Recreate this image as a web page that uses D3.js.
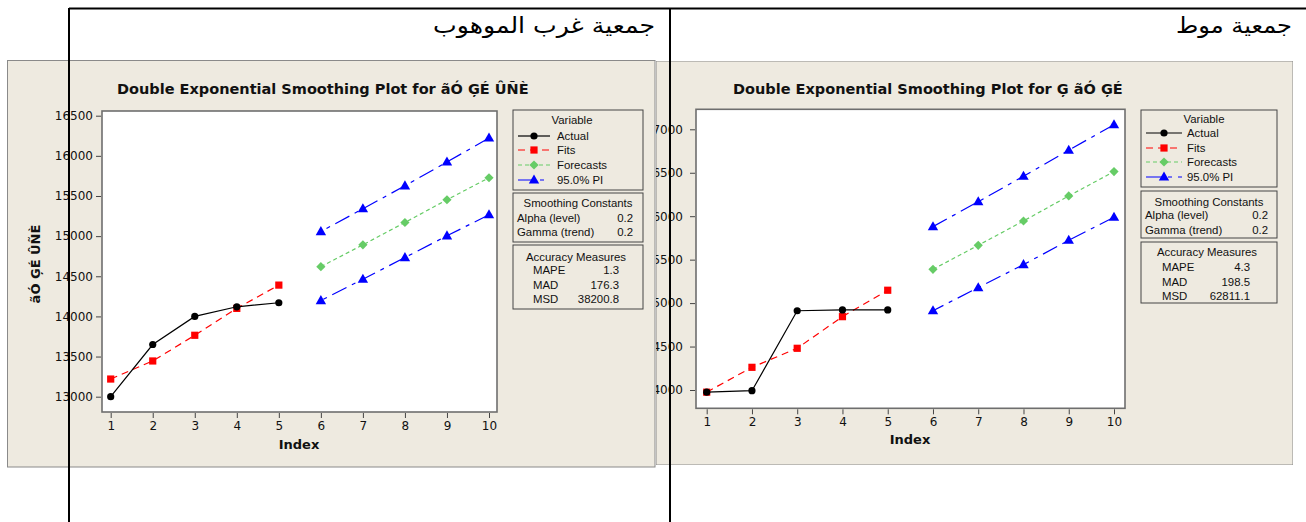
<!DOCTYPE html>
<html><head><meta charset="utf-8">
<script src="https://cdn.jsdelivr.net/npm/d3@7/dist/d3.min.js"></script>
<style>html,body{margin:0;padding:0;background:#fff;}svg{display:block;}</style>
</head><body>
<svg id="c" width="1306" height="522"></svg>
<script>
// ---------- data ----------
const indexTicks = [1,2,3,4,5,6,7,8,9,10];
const actualIndex = [1,2,3,4,5];
const forecastIndex = [6,7,8,9,10];

const leftHeading = "جمعية غرب الموهوب";
const rightHeading = "جمعية موط";
const leftTitle = "Double Exponential Smoothing Plot for ãÓ  ĢÉ ÛÑÈ";
const rightTitle = "Double Exponential Smoothing Plot for Ģ ãÓ  ĢÉ";
const leftYLabel = "ãÓ  ĢÉ ÛÑÈ";
const xLabel = "Index";

const leftYTicks = [13000,13500,14000,14500,15000,15500,16000,16500];
const leftActual = [13000,13650,14000,14120,14170];
const leftFits = [13220,13445,13765,14100,14390];
const leftForecasts = [14620,14892,15170,15453,15727];
const leftUpper = [15057,15341,15627,15923,16222];
const leftLower = [14197,14464,14733,15004,15266];

const rightYTicks = [4000,4500,5000,5500,6000,6500,7000];
const rightActual = [3975,3992,4912,4922,4922];
const rightFits = [3975,4261,4480,4844,5148];
const rightForecasts = [5389,5665,5945,6233,6513];
const rightUpper = [5880,6167,6460,6760,7053];
const rightLower = [4913,5178,5443,5723,5988];

const legendTitle = "Variable";
const legendItems = ["Actual","Fits","Forecasts","95.0% PI"];
const smoothingTitle = "Smoothing Constants";
const smoothingLabels = ["Alpha (level)","Gamma (trend)"];
const smoothingValues = ["0.2","0.2"];
const accuracyTitle = "Accuracy Measures";
const accuracyLabels = ["MAPE","MAD","MSD"];
const leftAccuracy = ["1.3","176.3","38200.8"];
const rightAccuracy = ["4.3","198.5","62811.1"];

// ---------- styles ----------
const BG = "#EEEAE0";
const styles = {
  Actual:{color:"#000000", dash:null, shape:"circle"},
  Fits:{color:"#FF0000", dash:"7,5", shape:"square"},
  Forecasts:{color:"#66CC66", dash:"4,3", shape:"diamond"},
  PI:{color:"#0000FF", dash:"16,6,4,6", shape:"triangle"}
};
const svg = d3.select("#c");

function marker(g, shape, color, x, y){
  if(shape==="circle") g.append("circle").attr("cx",x).attr("cy",y).attr("r",3.6).attr("fill",color);
  else if(shape==="square") g.append("rect").attr("x",x-3.6).attr("y",y-3.6).attr("width",7.2).attr("height",7.2).attr("fill",color);
  else if(shape==="diamond") g.append("path").attr("d",`M${x},${y-4.6}L${x+4.6},${y}L${x},${y+4.6}L${x-4.6},${y}Z`).attr("fill",color);
  else g.append("path").attr("d",`M${x},${y-5.5}L${x+5.2},${y+3.6}L${x-5.2},${y+3.6}Z`).attr("fill",color);
}

function drawPanel(L, D){
  const g = svg.append("g");
  if(L.clipId){
    svg.append("defs").append("clipPath").attr("id",L.clipId).append("rect")
      .attr("x",L.panel[0]).attr("y",L.panel[1]).attr("width",L.panel[2]).attr("height",L.panel[3]);
    g.attr("clip-path",`url(#${L.clipId})`);
  }
  g.append("rect").attr("x",L.panel[0]).attr("y",L.panel[1]).attr("width",L.panel[2]).attr("height",L.panel[3])
    .attr("fill",BG).attr("stroke","#8a8a8a").attr("stroke-width",1);
  const x = d3.scaleLinear().domain([1,10]).range(L.xr);
  const y = d3.scaleLinear().domain(L.ydom).range(L.yr);
  // plot area
  g.append("rect").attr("x",L.plot[0]).attr("y",L.plot[1]).attr("width",L.plot[2]-L.plot[0]).attr("height",L.plot[3]-L.plot[1])
    .attr("fill","#fff").attr("stroke","#6e6e6e").attr("stroke-width",1.6);
  // axes
  const yAx = g.append("g").attr("transform",`translate(${L.plot[0]-1},0)`)
    .call(d3.axisLeft(y).tickValues(D.yTicks).tickSize(5).tickPadding(L.yPad).tickFormat(d3.format("d")));
  const xAx = g.append("g").attr("transform",`translate(0,${L.plot[3]+1})`)
    .call(d3.axisBottom(x).tickValues(indexTicks).tickSize(5).tickPadding(3).tickFormat(d=>String(d)));
  [yAx,xAx].forEach(a=>{
    a.select(".domain").remove();
    a.selectAll(".tick line").attr("stroke","#444");
    a.selectAll("text").attr("font-family","DejaVu Sans, Verdana, sans-serif").attr("font-size",12).attr("fill","#111");
  });
  // titles
  g.append("text").attr("x",L.titleX).attr("y",L.titleY).attr("font-family","DejaVu Sans, Verdana, sans-serif")
    .attr("font-weight","bold").attr("font-size",14.5).attr("fill","#111").attr("dominant-baseline","central").text(D.title);
  g.append("text").attr("x",L.xLabelPos[0]).attr("y",L.xLabelPos[1]).attr("text-anchor","middle").attr("dominant-baseline","central")
    .attr("font-family","DejaVu Sans, Verdana, sans-serif").attr("font-weight","bold").attr("font-size",13).attr("fill","#111").text(xLabel);
  if(D.yLabel){
    g.append("text").attr("transform",`translate(${L.yLabelPos[0]},${L.yLabelPos[1]}) rotate(-90)`).attr("text-anchor","middle")
      .attr("dominant-baseline","central").attr("font-family","DejaVu Sans, Verdana, sans-serif").attr("font-weight","bold")
      .attr("font-size",13).attr("fill","#111").text(D.yLabel);
  }
  // series
  const line = d3.line().x(d=>x(d[0])).y(d=>y(d[1]));
  const series = [
    {key:"PI", idx:forecastIndex, v:D.upper},
    {key:"PI", idx:forecastIndex, v:D.lower},
    {key:"Forecasts", idx:forecastIndex, v:D.forecasts},
    {key:"Fits", idx:actualIndex, v:D.fits},
    {key:"Actual", idx:actualIndex, v:D.actual}
  ];
  series.forEach(s=>{
    const st = styles[s.key];
    const pts = s.idx.map((i,k)=>[i,s.v[k]]);
    const lineData = s.key==="PI" ? pts.slice().reverse() : pts;
    g.append("path").attr("d",line(lineData)).attr("fill","none").attr("stroke",st.color).attr("stroke-width",1.2)
      .attr("stroke-dasharray",st.dash);
    pts.forEach(p=>marker(g,st.shape,st.color,x(p[0]),y(p[1])));
  });
  // legend boxes
  const font = "Liberation Sans, Arial, sans-serif";
  const t = (xx,yy,txt,anchor)=>g.append("text").attr("x",xx).attr("y",yy).attr("font-family",font).attr("font-size",11.4)
      .attr("fill","#111").attr("dominant-baseline","central").attr("text-anchor",anchor||"start").text(txt);
  L.boxes.forEach(b=>g.append("rect").attr("x",b[0]).attr("y",b[1]).attr("width",b[2]).attr("height",b[3])
    .attr("fill","none").attr("stroke","#444").attr("stroke-width",1));
  const b1=L.boxes[0], b2=L.boxes[1], b3=L.boxes[2];
  t(b1[0]+b1[2]/2+L.varDx, L.legRows[0], legendTitle, "middle");
  legendItems.forEach((name,k)=>{
    const key = k===3 ? "PI" : name;
    const st = styles[key];
    const yy = L.legRows[k+1];
    g.append("line").attr("x1",L.legLine[0]).attr("x2",L.legLine[1]).attr("y1",yy).attr("y2",yy)
      .attr("stroke",st.color).attr("stroke-width",1.2).attr("stroke-dasharray",st.dash);
    marker(g,st.shape,st.color,(L.legLine[0]+L.legLine[1])/2,yy);
    t(L.legText,yy,name);
  });
  t(b2[0]+b2[2]/2, L.smRows[0], smoothingTitle, "middle");
  smoothingLabels.forEach((s,k)=>{ t(b2[0]+4, L.smRows[k+1], s); t(L.smValX, L.smRows[k+1], smoothingValues[k], "end"); });
  t(b3[0]+b3[2]/2-2, L.acRows[0], accuracyTitle, "middle");
  accuracyLabels.forEach((s,k)=>{ t(L.acLabX, L.acRows[k+1], s); t(L.acValX, L.acRows[k+1], D.accuracy[k], "end"); });
}

// right panel first (left panel overlaps it)
drawPanel({
  clipId:"clipR", panel:[656,61,637,404], plot:[696,109.3,1125,408.3],
  xr:[706.7,1114], ydom:[4000,7000], yr:[390,129.3], yPad:7,
  titleX:733, titleY:89, xLabelPos:[910,439], yLabelPos:null,
  boxes:[[1141,110,136,77],[1141,191,136,47],[1141,242,136,61]],
  varDx:-5, legRows:[119,133,148,162,177], legLine:[1146,1182], legText:1187,
  smRows:[202,215,230], smValX:1268, acRows:[252,267,282,296], acLabX:1162, acValX:1250
},{title:rightTitle, yLabel:null, yTicks:rightYTicks, actual:rightActual, fits:rightFits,
   forecasts:rightForecasts, upper:rightUpper, lower:rightLower, accuracy:rightAccuracy});

drawPanel({
  clipId:null, panel:[7.5,60.5,647.5,406.5], plot:[102,111,497,412],
  xr:[110.7,489], ydom:[13000,16500], yr:[396.7,115.7], yPad:3,
  titleX:117, titleY:89, xLabelPos:[299,444], yLabelPos:[35,264],
  boxes:[[513,110,130,80],[513,193,130,49],[513,245,130,64]],
  varDx:-6, legRows:[120,136,150,165,180], legLine:[518,550], legText:557,
  smRows:[203,218,232], smValX:633, acRows:[257,270,285,299], acLabX:533, acValX:619
},{title:leftTitle, yLabel:leftYLabel, yTicks:leftYTicks, actual:leftActual, fits:leftFits,
   forecasts:leftForecasts, upper:leftUpper, lower:leftLower, accuracy:leftAccuracy});

// page frame lines and headings
svg.append("line").attr("x1",69).attr("x2",1306).attr("y1",8.5).attr("y2",8.5).attr("stroke","#000").attr("stroke-width",2);
svg.append("line").attr("x1",69).attr("x2",69).attr("y1",8).attr("y2",522).attr("stroke","#000").attr("stroke-width",2);
svg.append("line").attr("x1",670).attr("x2",670).attr("y1",8).attr("y2",522).attr("stroke","#000").attr("stroke-width",2);
svg.append("text").attr("x",655).attr("y",25).attr("text-anchor","end").attr("dominant-baseline","central")
  .attr("font-family","DejaVu Sans, sans-serif").attr("font-size",22).attr("fill","#000")
  .attr("textLength",222).attr("lengthAdjust","spacingAndGlyphs").text(leftHeading);
svg.append("text").attr("x",1292).attr("y",25).attr("text-anchor","end").attr("dominant-baseline","central")
  .attr("font-family","DejaVu Sans, sans-serif").attr("font-size",22).attr("fill","#000")
  .attr("textLength",116).attr("lengthAdjust","spacingAndGlyphs").text(rightHeading);
</script>
</body></html>
